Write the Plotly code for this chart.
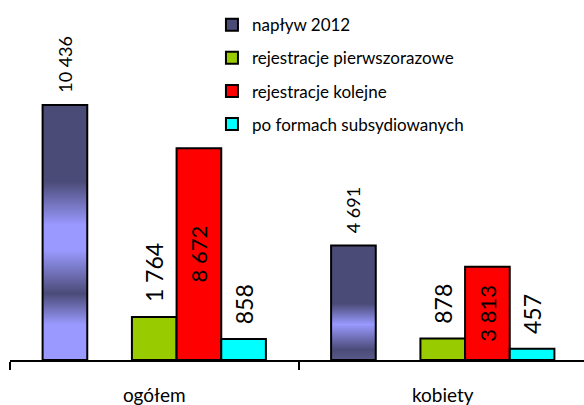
import plotly.graph_objects as go

categories = ["ogółem", "kobiety"]
series_names = ["napływ 2012", "rejestracje pierwszorazowe", "rejestracje kolejne", "po formach subsydiowanych"]
naplyw = [10436, 4691]
pierwszorazowe = [1764, 878]
kolejne = [8672, 3813]
subsydiowane = [858, 457]

colors = ["#4b4b78", "#99cc00", "#ff0000", "#00ffff"]
FONT = "Lato"
PAD = "\u00a0\u00a0"


def fmt(v):
    return f"{v:,}".replace(",", " ")


fig = go.Figure()

common = dict(constraintext="none", cliponaxis=False, textangle=-90)

fig.add_trace(go.Bar(
    name=series_names[0], x=categories, y=naplyw,
    marker=dict(color=colors[0], line=dict(color="black", width=2)),
    text=[PAD + fmt(v) for v in naplyw], textposition="outside",
    textfont=dict(family=FONT, size=18, color="black"),
    legendgroup="a", **common,
))
fig.add_trace(go.Bar(
    name="", x=categories, y=[0, 0], showlegend=False,
    marker=dict(color="rgba(0,0,0,0)", line=dict(width=0)), hoverinfo="skip",
))
fig.add_trace(go.Bar(
    name=series_names[1], x=categories, y=pierwszorazowe,
    marker=dict(color=colors[1], line=dict(color="black", width=2)),
    text=[PAD + fmt(v) for v in pierwszorazowe], textposition="outside",
    textfont=dict(family=FONT, size=23, color="black"),
    legendgroup="b", **common,
))
fig.add_trace(go.Bar(
    name=series_names[2], x=categories, y=kolejne,
    marker=dict(color=colors[2], line=dict(color="black", width=2)),
    text=[fmt(v) for v in kolejne], textposition="inside", insidetextanchor="middle",
    textfont=dict(family=FONT, size=22, color="black"),
    legendgroup="c", **common,
))
fig.add_trace(go.Bar(
    name=series_names[3], x=categories, y=subsydiowane,
    marker=dict(color=colors[3], line=dict(color="black", width=2)),
    text=[PAD + fmt(v) for v in subsydiowane], textposition="outside",
    textfont=dict(family=FONT, size=23, color="black"),
    legendgroup="d", **common,
))

fig.update_layout(
    width=587, height=405,
    margin=dict(l=10, r=0, t=0, b=45),
    paper_bgcolor="white", plot_bgcolor="white",
    barmode="group", bargap=0.226, bargroupgap=0,
    font=dict(family=FONT, color="black"),
    showlegend=True,
    legend=dict(
        x=0.35, xanchor="left", y=0.98, yanchor="top",
        bgcolor="rgba(0,0,0,0)", font=dict(family=FONT, size=17, color="black"),
        traceorder="grouped", tracegroupgap=8,
    ),
    xaxis=dict(
        type="category", range=[-0.5, 1.5],
        showline=True, linecolor="black", linewidth=2,
        ticks="outside", tickson="boundaries", ticklen=8, tickwidth=2, tickcolor="black",
        showgrid=False, zeroline=False,
        tickfont=dict(family=FONT, size=19, color="black"),
        ticklabelstandoff=17,
    ),
    yaxis=dict(visible=False, range=[0, 14735], showgrid=False, zeroline=False),
)

post_script = """
document.body.style.margin = '0';
document.body.style.overflow = 'hidden';
var gd = document.getElementById('{plot_id}');
function applyGrad(){
  var svg = gd.querySelector('svg.main-svg');
  if(!svg) return;
  var defs = svg.querySelector('defs');
  var NS = 'http://www.w3.org/2000/svg';
  function mk(id, stops){
    if (document.getElementById(id)) return;
    var g = document.createElementNS(NS, 'linearGradient');
    g.setAttribute('id', id);
    g.setAttribute('x1','0'); g.setAttribute('y1','0');
    g.setAttribute('x2','0'); g.setAttribute('y2','1');
    stops.forEach(function(s){
      var st = document.createElementNS(NS, 'stop');
      st.setAttribute('offset', s[0]);
      st.setAttribute('stop-color', s[1]);
      g.appendChild(st);
    });
    defs.appendChild(g);
  }
  var D = '#4b4b78', L = '#9999ff';
  mk('gradNap0', [[0,D],[0.30,D],[0.47,L],[0.57,L],[0.74,D],[0.86,L],[1,L]]);
  mk('gradNap1', [[0,D],[0.51,D],[0.69,L],[0.91,D],[1,'#5a5a8a']]);
  var tr = gd.querySelectorAll('g.trace.bars')[0];
  if(!tr) return;
  var pts = tr.querySelectorAll('g.point path');
  pts.forEach(function(p, i){
    p.style.fill = 'url(#gradNap' + i + ')';
  });
}
applyGrad();
gd.on('plotly_afterplot', applyGrad);
"""

fig.write_html("out.html", post_script=post_script, config={"displayModeBar": False})
